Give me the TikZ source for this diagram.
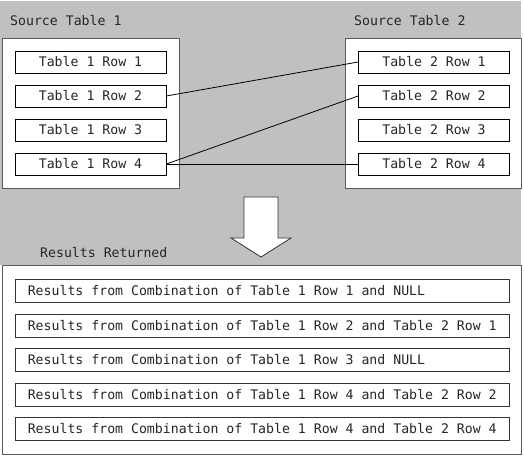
\documentclass[tikz,border=0pt]{standalone}
\usepackage{fontspec}
\setmonofont{DejaVu Sans Mono}
\definecolor{bggray}{RGB}{192,192,192}
\definecolor{framegray}{RGB}{90,90,90}
\begin{document}
\begin{tikzpicture}[x=1pt,y=-1pt,
  txt/.style={font=\ttfamily\fontsize{13.2}{15}\selectfont, text=black!85},
  rowbox/.style={txt, draw=black, line width=0.8pt, fill=white, minimum width=151pt, minimum height=22pt, inner sep=0pt},
  resbox/.style={draw=black!80, line width=0.8pt, fill=white, minimum width=494pt, minimum height=23pt, inner sep=0pt},
  restxt/.style={txt, anchor=west, inner sep=0pt},
  frame/.style={draw=framegray, line width=1.1pt, fill=white},
  lbl/.style={txt, anchor=base west, inner sep=0pt},
  link/.style={draw=black, line width=0.8pt}]
\useasboundingbox (0,0) rectangle (524,457);
\fill[white] (0,0) rectangle (524,457);
\fill[bggray] (0,1) rectangle (521,265);
% source frames
\node[frame, minimum width=177pt, minimum height=150pt, anchor=north west, inner sep=0pt] (f1) at (2,38) {};
\node[frame, minimum width=176pt, minimum height=150pt, anchor=north west, inner sep=0pt] (f2) at (345,38) {};
\node[lbl] (l1) at (10,26) {Source Table 1};
\node[lbl] (l2) at (354,26) {Source Table 2};
% rows
\foreach \i/\y in {1/62,2/96,3/130,4/164}{
  \node[rowbox] (a\i) at (90.5,\y) {Table 1 Row \i};
  \node[rowbox] (b\i) at (434,\y) {Table 2 Row \i};
}
\draw[link] (a2.east) -- (b1.west);
\draw[link] (a4.east) -- (b2.west);
\draw[link] (a4.east) -- (b4.west);
% arrow
\draw[fill=white, draw=black!80, line width=0.8pt]
  (244,197) -- (278,197) -- (278,238) -- (291,238) -- (261,257) -- (231,238) -- (244,238) -- cycle;
% results frame
\node[frame, minimum width=519pt, minimum height=189pt, anchor=north west, inner sep=0pt] (f3) at (2,265) {};
\node[lbl] (l3) at (40,257) {Results Returned};
\foreach \k/\y/\t in {1/291/{Results from Combination of Table 1 Row 1 and NULL},
                      2/325.5/{Results from Combination of Table 1 Row 2 and Table 2 Row 1},
                      3/360/{Results from Combination of Table 1 Row 3 and NULL},
                      4/394.5/{Results from Combination of Table 1 Row 4 and Table 2 Row 2},
                      5/429/{Results from Combination of Table 1 Row 4 and Table 2 Row 4}}{
  \node[resbox] (r\k) at (262,\y) {};
  \node[restxt] (rt\k) at ([xshift=13pt]r\k.west) {\t};
}
\end{tikzpicture}
\end{document}
